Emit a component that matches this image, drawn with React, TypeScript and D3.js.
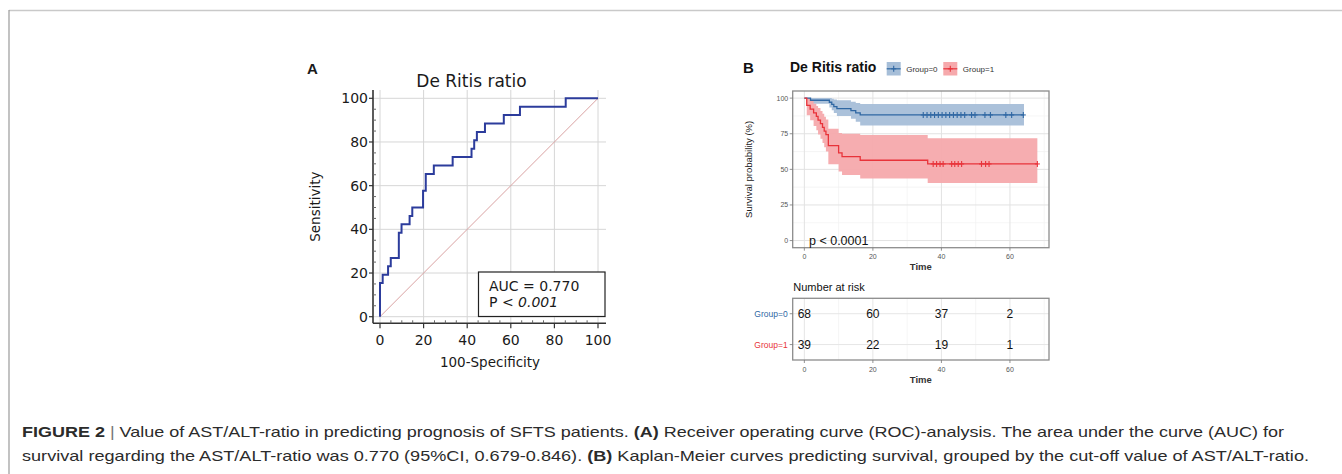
import React from 'react';
import * as d3 from 'd3';

// Panel A: ROC curve corners, 100-specificity (%) and sensitivity (%)
const rocFpr = [0, 0, 1.23, 3.7, 4.94, 8.64, 9.88, 13.58, 14.81, 19.75, 20.99, 24.69, 33.33, 41.98, 43.21, 44.44, 48.15, 56.79, 64.2, 85.19, 100];
const rocTpr = [0, 15.38, 19.23, 23.08, 26.92, 38.46, 42.31, 46.15, 50, 57.69, 65.38, 69.23, 73.08, 76.92, 80.77, 84.62, 88.46, 92.31, 96.15, 100, 100];
const rocTicks = [0, 20, 40, 60, 80, 100];

// Panel B: Kaplan-Meier steps with confidence band
const km0Time = [0, 1.8, 7.3, 8, 8.6, 9.5, 13.6, 15, 16.3, 64.1];
const km0Surv = [100, 98.5, 97.1, 95.6, 94.1, 92.6, 91.2, 89.7, 88.2, 88.2];
const km0Lower = [100, 96, 93.5, 91.5, 89.5, 87.5, 85.5, 83.5, 80.8, 80.8];
const km0Upper = [100, 100, 100, 99.5, 99, 98.5, 97.5, 96.5, 95.8, 95.8];
const km0Censor = [34.7, 35.8, 36.9, 38.0, 39.1, 40.2, 41.3, 42.4, 43.5, 44.6, 45.7, 46.8, 48.8, 49.8, 52.7, 54.3, 58.8, 60.5, 63.9];

const km1Time = [0, 0.7, 1.7, 2.7, 3.5, 4, 4.7, 5.3, 5.8, 6.3, 7, 10, 11, 16.3, 36, 68];
const km1Surv = [100, 94.9, 92.3, 89.7, 87.2, 84.6, 82.1, 79.5, 76.9, 74.4, 66.7, 61.5, 59.0, 56.4, 53.8, 53.8];
const km1Lower = [100, 88, 84.5, 80.5, 77.5, 74.5, 71.5, 68.5, 65.5, 62.5, 53.5, 48.5, 46, 43.5, 40.5, 40.5];
const km1Upper = [100, 100, 98, 96, 94.5, 93, 91, 89, 87, 85, 78.5, 75.5, 75, 74.2, 71.9, 71.9];
const km1Censor = [37.6, 38.6, 39.6, 40.5, 43.0, 43.9, 44.9, 45.9, 51.7, 52.9, 53.9, 68];

const kmTicksX = [0, 20, 40, 60];
const kmMinorX = [10, 30, 50, 70];
const kmTicksY = [0, 25, 50, 75, 100];
const kmMinorY = [12.5, 37.5, 62.5, 87.5];

const groups = ['Group=0', 'Group=1'];
const riskTimes = [0, 20, 40, 60];
const risk0 = [68, 60, 37, 2];
const risk1 = [39, 22, 19, 1];

const blueLine = '#2f67a3';
const blueBand = '#a6bed8';
const redLine = '#e8333a';
const redBand = '#f6a9ac';

const fA = 'DejaVu Sans, Verdana, sans-serif';
const fB = 'Liberation Sans, Arial, Helvetica, sans-serif';

function survAt(times: number[], surv: number[], t: number) {
  const i = d3.bisectRight(times, t) - 1;
  return surv[Math.max(0, i)];
}

function Plus({ x, y, color }: { x: number; y: number; color: string }) {
  return (
    <g stroke={color} strokeWidth={1.1}>
      <line x1={x - 2.5} x2={x + 2.5} y1={y} y2={y} />
      <line x1={x} x2={x} y1={y - 3} y2={y + 3} />
    </g>
  );
}

export default function App() {
  // ---------- panel A ----------
  const xA = d3.scaleLinear().domain([0, 100]).range([380, 598]);
  const yA = d3.scaleLinear().domain([0, 100]).range([316.7, 98.3]);
  const frame = { left: 373, right: 606, top: 90, bottom: 323.3 };
  const minorA = d3.range(5, 100, 5).filter((v) => v % 20 !== 0);

  const rocPath = d3
    .line<number>()
    .x((_, i) => xA(rocFpr[i]))
    .y((d) => yA(d))
    .curve(d3.curveStepAfter)(rocTpr) as string;

  // ---------- panel B ----------
  const xB = d3.scaleLinear().domain([-3.4, 71.4]).range([792.7, 1049]);
  const yB = d3.scaleLinear().domain([-5, 105]).range([247.7, 91]);
  const [pL, pR] = xB.range();
  const [pB, pT] = yB.range();

  const kmLine = (times: number[], surv: number[]) =>
    d3
      .line<number>()
      .x((_, i) => xB(times[i]))
      .y((d) => yB(d))
      .curve(d3.curveStepAfter)(surv) as string;

  const kmBand = (times: number[], lo: number[], hi: number[]) =>
    d3
      .area<number>()
      .x((_, i) => xB(times[i]))
      .y0((_, i) => yB(lo[i]))
      .y1((_, i) => yB(hi[i]))
      .curve(d3.curveStepAfter)(times) as string;

  // risk table
  const yR = d3.scalePoint<string>().domain(groups).range([298.3, 360]).padding(0.5);
  const [rT, rB] = yR.range();

  const series = [
    { time: km0Time, surv: km0Surv, lo: km0Lower, hi: km0Upper, cens: km0Censor, line: blueLine, band: blueBand },
    { time: km1Time, surv: km1Surv, lo: km1Lower, hi: km1Upper, cens: km1Censor, line: redLine, band: redBand },
  ];
  const risks = [risk0, risk1];

  return (
    <svg
      width={1342}
      height={474}
      style={{ position: 'absolute', left: 0, top: 0, background: '#fff' }}
    >
      <rect x={0} y={0} width={1342} height={474} fill="#fff" />
      {/* page frame */}
      <line x1={9} x2={1342} y1={10.5} y2={10.5} stroke="#c9c9c9" strokeWidth={1.5} />
      <line x1={9} x2={9} y1={10} y2={474} stroke="#9a9a9a" strokeWidth={1.2} />

      {/* ================= PANEL A ================= */}
      <g fontFamily={fA} fill="#1a1a1a">
        <text x={307} y={74} fontFamily={fB} fontWeight="bold" fontSize={15}>A</text>
        <text x={471.5} y={87} fontSize={17} textAnchor="middle">De Ritis ratio</text>

        {/* grid */}
        <g stroke="#d6d6d6" strokeWidth={1}>
          {rocTicks.map((t) => (
            <line key={'gx' + t} x1={xA(t)} x2={xA(t)} y1={frame.top} y2={frame.bottom} />
          ))}
          {rocTicks.map((t) => (
            <line key={'gy' + t} x1={frame.left} x2={frame.right} y1={yA(t)} y2={yA(t)} />
          ))}
        </g>

        {/* axes */}
        <g stroke="#333" strokeWidth={1.6}>
          <line x1={frame.left} x2={frame.left} y1={frame.top} y2={frame.bottom} />
          <line x1={frame.left} x2={frame.right} y1={frame.bottom} y2={frame.bottom} />
        </g>
        <g stroke="#333" strokeWidth={1.2}>
          {rocTicks.map((t) => (
            <line key={'ty' + t} x1={frame.left - 4} x2={frame.left} y1={yA(t)} y2={yA(t)} />
          ))}
          {rocTicks.map((t) => (
            <line key={'tx' + t} x1={xA(t)} x2={xA(t)} y1={frame.bottom} y2={frame.bottom + 5} />
          ))}
        </g>
        <g stroke="#666" strokeWidth={1}>
          {minorA.map((t) => (
            <line key={'my' + t} x1={frame.left} x2={frame.left + 3} y1={yA(t)} y2={yA(t)} />
          ))}
          {minorA.map((t) => (
            <line key={'mx' + t} x1={xA(t)} x2={xA(t)} y1={frame.bottom} y2={frame.bottom - 3} />
          ))}
        </g>

        {rocTicks.map((t) => (
          <text key={'ly' + t} x={368} y={yA(t) + 5} fontSize={14} textAnchor="end">{t}</text>
        ))}
        {rocTicks.map((t) => (
          <text key={'lx' + t} x={xA(t)} y={345} fontSize={14} textAnchor="middle">{t}</text>
        ))}

        <text
          transform={`translate(320,${(frame.top + frame.bottom) / 2}) rotate(-90)`}
          fontSize={13.5}
          textAnchor="middle"
        >
          Sensitivity
        </text>
        <text x={490} y={367} fontSize={13.5} textAnchor="middle">100-Specificity</text>

        {/* diagonal and ROC */}
        <line x1={xA(0)} y1={yA(0)} x2={xA(100)} y2={yA(100)} stroke="#d9a2a2" strokeWidth={1} />
        <path d={rocPath} fill="none" stroke="#2c3c9c" strokeWidth={2} />

        {/* AUC box */}
        <rect x={478.5} y={272} width={126.5} height={44.5} fill="#fff" stroke="#222" strokeWidth={1.2} />
        <text x={489} y={290.5} fontSize={14}>AUC = 0.770</text>
        <text x={489} y={307} fontSize={14}>
          P &lt; <tspan fontStyle="italic">0.001</tspan>
        </text>
      </g>

      {/* ================= PANEL B ================= */}
      <g fontFamily={fB}>
        <text x={743} y={73} fontWeight="bold" fontSize={15} fill="#111">B</text>
        <text x={790} y={72} fontWeight="bold" fontSize={14} fill="#111">De Ritis ratio</text>

        {/* legend */}
        {[
          { x: 886.7, label: groups[0], line: blueLine, band: blueBand },
          { x: 943.3, label: groups[1], line: redLine, band: redBand },
        ].map((g) => (
          <g key={g.label}>
            <rect x={g.x} y={62} width={14} height={13.5} fill={g.band} />
            <line x1={g.x} x2={g.x + 14} y1={68.8} y2={68.8} stroke={g.line} strokeWidth={1.2} />
            <Plus x={g.x + 7} y={68.8} color={g.line} />
            <text x={g.x + 19.5} y={71.5} fontSize={8} fill="#333">{g.label}</text>
          </g>
        ))}

        {/* panel background & grid */}
        <rect x={pL} y={pT} width={pR - pL} height={pB - pT} fill="#fff" />
        <g stroke="#f0f0f0" strokeWidth={0.7}>
          {kmMinorX.map((t) => (
            <line key={'mnx' + t} x1={xB(t)} x2={xB(t)} y1={pT} y2={pB} />
          ))}
          {kmMinorY.map((t) => (
            <line key={'mny' + t} x1={pL} x2={pR} y1={yB(t)} y2={yB(t)} />
          ))}
        </g>
        <g stroke="#e2e2e2" strokeWidth={1}>
          {kmTicksX.map((t) => (
            <line key={'mjx' + t} x1={xB(t)} x2={xB(t)} y1={pT} y2={pB} />
          ))}
          {kmTicksY.map((t) => (
            <line key={'mjy' + t} x1={pL} x2={pR} y1={yB(t)} y2={yB(t)} />
          ))}
        </g>

        {/* bands, curves, censor marks */}
        {series.map((s, k) => (
          <path key={'band' + k} d={kmBand(s.time, s.lo, s.hi)} fill={s.band} opacity={0.95} />
        ))}
        {series.map((s, k) => (
          <g key={'curve' + k}>
            <path d={kmLine(s.time, s.surv)} fill="none" stroke={s.line} strokeWidth={1.3} />
            {s.cens.map((t, j) => (
              <Plus key={j} x={xB(t)} y={yB(survAt(s.time, s.surv, t))} color={s.line} />
            ))}
          </g>
        ))}

        <rect x={pL} y={pT} width={pR - pL} height={pB - pT} fill="none" stroke="#8c8c8c" strokeWidth={1.3} />

        {/* axes */}
        {kmTicksY.map((t) => (
          <g key={'yt' + t}>
            <line x1={pL - 3} x2={pL} y1={yB(t)} y2={yB(t)} stroke="#777" strokeWidth={0.8} />
            <text x={pL - 4.5} y={yB(t) + 2.5} fontSize={7} fill="#555" textAnchor="end">{t}</text>
          </g>
        ))}
        {kmTicksX.map((t) => (
          <g key={'xt' + t}>
            <line x1={xB(t)} x2={xB(t)} y1={pB} y2={pB + 3} stroke="#777" strokeWidth={0.8} />
            <text x={xB(t)} y={259} fontSize={7} fill="#555" textAnchor="middle">{t}</text>
          </g>
        ))}
        <text x={(pL + pR) / 2} y={270} fontSize={9.5} fontWeight="bold" fill="#333" textAnchor="middle">Time</text>
        <text
          transform={`translate(752,${(pT + pB) / 2}) rotate(-90)`}
          fontSize={9.5}
          fill="#222"
          textAnchor="middle"
        >
          Survival probability (%)
        </text>
        <text x={809} y={245} fontSize={12.5} fill="#111">p &lt; 0.0001</text>

        {/* ---------- risk table ---------- */}
        <text x={793.3} y={291} fontSize={11} fill="#111">Number at risk</text>
        <rect x={pL} y={rT} width={pR - pL} height={rB - rT} fill="#fff" />
        <g stroke="#f0f0f0" strokeWidth={0.7}>
          {kmMinorX.map((t) => (
            <line key={'rmx' + t} x1={xB(t)} x2={xB(t)} y1={rT} y2={rB} />
          ))}
        </g>
        <g stroke="#e6e6e6" strokeWidth={1}>
          {kmTicksX.map((t) => (
            <line key={'rjx' + t} x1={xB(t)} x2={xB(t)} y1={rT} y2={rB} />
          ))}
          {groups.map((g) => (
            <line key={'rjy' + g} x1={pL} x2={pR} y1={yR(g)} y2={yR(g)} />
          ))}
        </g>
        {groups.map((g, gi) =>
          riskTimes.map((t, ti) => (
            <text
              key={g + t}
              x={xB(t)}
              y={(yR(g) as number) + 4.5}
              fontSize={12}
              fill="#111"
              textAnchor="middle"
            >
              {risks[gi][ti]}
            </text>
          ))
        )}
        <rect x={pL} y={rT} width={pR - pL} height={rB - rT} fill="none" stroke="#8c8c8c" strokeWidth={1.3} />
        {groups.map((g, gi) => (
          <g key={'rl' + g}>
            <line x1={pL - 3} x2={pL} y1={yR(g)} y2={yR(g)} stroke="#777" strokeWidth={0.8} />
            <text
              x={pL - 5}
              y={(yR(g) as number) + 3}
              fontSize={8.5}
              fill={gi === 0 ? blueLine : redLine}
              textAnchor="end"
            >
              {g}
            </text>
          </g>
        ))}
        {kmTicksX.map((t) => (
          <g key={'rxt' + t}>
            <line x1={xB(t)} x2={xB(t)} y1={rB} y2={rB + 3} stroke="#777" strokeWidth={0.8} />
            <text x={xB(t)} y={371.5} fontSize={7} fill="#555" textAnchor="middle">{t}</text>
          </g>
        ))}
        <text x={(pL + pR) / 2} y={383} fontSize={9.5} fontWeight="bold" fill="#333" textAnchor="middle">Time</text>
      </g>

      {/* ================= CAPTION ================= */}
      <g fontFamily={fB} fontSize={15} fill="#2b2b2b">
        <text x={22} y={437} textLength={1262} lengthAdjust="spacingAndGlyphs">
          <tspan fontWeight="bold">FIGURE 2</tspan>
          <tspan fill="#777"> | </tspan>
          <tspan>Value of AST/ALT-ratio in predicting prognosis of SFTS patients. </tspan>
          <tspan fontWeight="bold">(A)</tspan>
          <tspan> Receiver operating curve (ROC)-analysis. The area under the curve (AUC) for</tspan>
        </text>
        <text x={22} y={461} textLength={1287} lengthAdjust="spacingAndGlyphs">
          <tspan>survival regarding the AST/ALT-ratio was 0.770 (95%CI, 0.679-0.846). </tspan>
          <tspan fontWeight="bold">(B)</tspan>
          <tspan> Kaplan-Meier curves predicting survival, grouped by the cut-off value of AST/ALT-ratio.</tspan>
        </text>
      </g>
    </svg>
  );
}
